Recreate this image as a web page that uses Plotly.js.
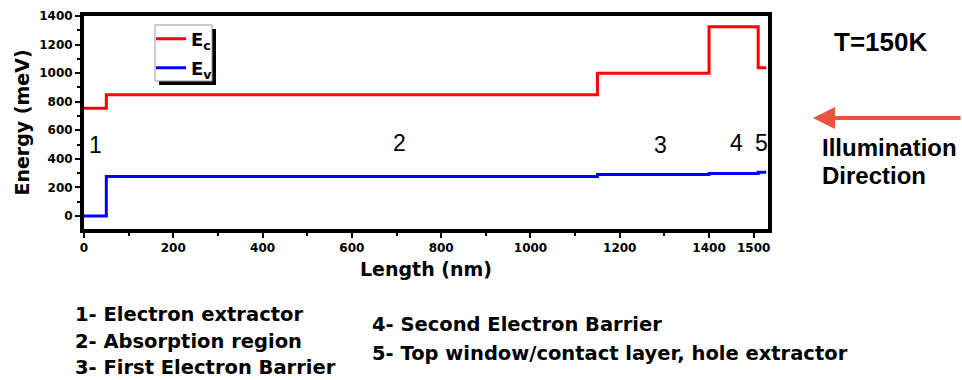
<!DOCTYPE html>
<html><head><meta charset="utf-8">
<script src="https://cdn.plot.ly/plotly-3.0.1.min.js"></script>
<style>body{margin:0;background:#fff}#chart{width:962px;height:380px}</style>
</head><body><div id="chart"></div>
<script>
// Layer boundaries (nm) and band energies (meV)
const lengthNm = [0, 50, 50, 1150, 1150, 1400, 1400, 1510, 1510, 1528];
const ecMeV   = [755, 755, 848, 848, 1000, 1000, 1325, 1325, 1038, 1038];
const evMeV   = [0, 0, 277, 277, 290, 290, 298, 298, 306, 306];
const regionLabels = ["1", "2", "3", "4", "5"];
const regionX = [25, 706, 1291, 1461, 1517];
const regionY = [500, 510, 495, 510, 510];
const xTicks = [0, 200, 400, 600, 800, 1000, 1200, 1400, 1500];
const yTicks = [0, 200, 400, 600, 800, 1000, 1200, 1400];
const notesLeft = ["1- Electron extractor", "2- Absorption region", "3- First Electron Barrier"];
const notesRight = ["4- Second Electron Barrier", "5- Top window/contact layer, hole extractor"];

const FD = "DejaVu Sans, sans-serif";
const FA = "Liberation Sans, Arial, sans-serif";
// pixel -> paper helpers (plot area 84..768 x 16..229)
const px = v => (v - 84) / 684;
const py = v => (229 - v) / 213;

const traces = [
  {x: lengthNm, y: ecMeV, mode: "lines", name: "E<sub>c</sub>", legend: "legend", line: {color: "#ff0000", width: 3}},
  {x: lengthNm, y: evMeV, mode: "lines", name: "E<sub>v</sub>", legend: "legend2", line: {color: "#0000ff", width: 3}}
];
const ann = [];
regionLabels.forEach((t, i) => ann.push({x: regionX[i], y: regionY[i], xref: "x", yref: "y", text: t, showarrow: false, font: {family: FA, size: 23, color: "#000"}}));
const txt = (x, y, t, xa, font) => ({xref: "paper", yref: "paper", x: px(x), y: py(y), xanchor: xa, yanchor: "middle", borderpad: 0, text: t, showarrow: false, font: font});
ann.push(txt(880, 42, "<b>T=150K</b>", "center", {family: FA, size: 26, color: "#000"}));
ann.push(txt(821, 147, "<b>Illumination</b>", "left", {family: FA, size: 24, color: "#000"}));
ann.push(txt(821, 175, "<b>Direction</b>", "left", {family: FA, size: 24, color: "#000"}));
ann.push({xref: "paper", yref: "paper", x: px(813), y: py(118), ax: 150, ay: 0, text: "", showarrow: true, arrowhead: 2, arrowsize: 1.1, arrowwidth: 4, arrowcolor: "#e8553f"});
const leftY = [314, 341, 367];
const rightY = [324, 353];
notesLeft.forEach((t, i) => ann.push(txt(74, leftY[i], "<b>" + t + "</b>", "left", {family: FD, size: 19.5, color: "#000"})));
notesRight.forEach((t, i) => ann.push(txt(371, rightY[i], "<b>" + t + "</b>", "left", {family: FD, size: 19.5, color: "#000"})));

const axisCommon = {showgrid: false, zeroline: false, showline: true, linecolor: "#000", linewidth: 4, mirror: true,
  ticks: "outside", ticklen: 5, tickwidth: 2, tickcolor: "#000", tickfont: {family: FD, size: 12, color: "#000", weight: "bold"}};
const legendCommon = {xanchor: "left", yanchor: "middle", bgcolor: "rgba(0,0,0,0)", borderwidth: 0,
  font: {family: FD, size: 18, color: "#000", weight: "bold"}, itemwidth: 30};
const layout = {
  width: 962, height: 380, margin: {l: 84, r: 194, t: 16, b: 151},
  paper_bgcolor: "#fff", plot_bgcolor: "#fff", showlegend: true,
  xaxis: Object.assign({}, axisCommon, {range: [0, 1532], tickvals: xTicks,
    minor: {dtick: 100, tick0: 0, ticks: "outside", ticklen: 3, tickwidth: 2, tickcolor: "#000"},
    title: {text: "<b>Length (nm)</b>", font: {family: FD, size: 19, color: "#000"}, standoff: 9}}),
  yaxis: Object.assign({}, axisCommon, {range: [-91, 1400], tickvals: yTicks,
    minor: {dtick: 100, tick0: 0, ticks: "outside", ticklen: 3, tickwidth: 2, tickcolor: "#000"},
    title: {text: "<b>Energy (meV)</b>", font: {family: FD, size: 19, color: "#000"}, standoff: 6}}),
  legend: Object.assign({}, legendCommon, {x: px(151), y: py(39)}),
  legend2: Object.assign({}, legendCommon, {x: px(151), y: py(68)}),
  shapes: [
    {type: "rect", xref: "paper", yref: "paper", x0: px(159), x1: px(216), y0: py(85), y1: py(29), fillcolor: "#000", line: {width: 0}, layer: "above"},
    {type: "rect", xref: "paper", yref: "paper", x0: px(155), x1: px(212), y0: py(81), y1: py(25), fillcolor: "#fff", line: {width: 1, color: "#999"}, layer: "above"}
  ],
  annotations: ann
};
Plotly.newPlot("chart", traces, layout, {displayModeBar: false});
</script></body></html>
